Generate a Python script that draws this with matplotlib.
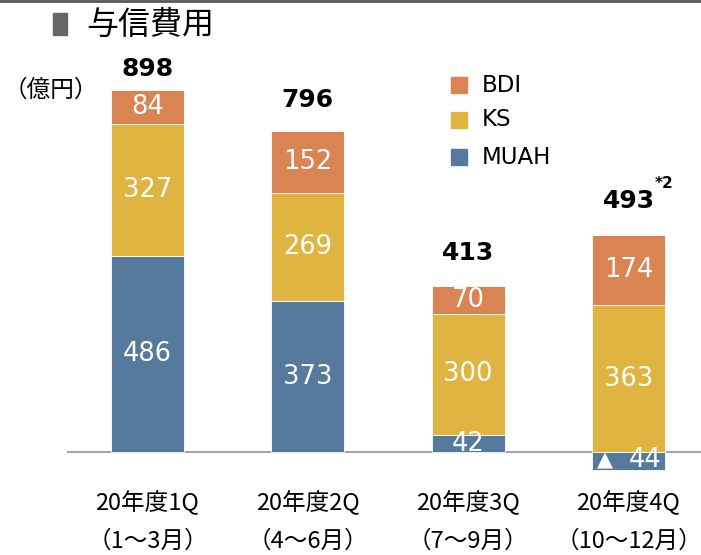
import matplotlib.pyplot as plt
import numpy as np

plt.rcParams['font.family'] = ['Noto Sans CJK JP', 'DejaVu Sans']

# データ（億円）
quarters = ['20年度1Q\n（1～3月）', '20年度2Q\n（4～6月）', '20年度3Q\n（7～9月）', '20年度4Q\n（10～12月）']
muah = [486, 373, 42, -44]
ks = [327, 269, 300, 363]
bdi = [84, 152, 70, 174]
totals = [898, 796, 413, 493]

c_bdi = '#D98452'
c_ks = '#DFB441'
c_muah = '#56799E'

W, H = 701, 555
fig = plt.figure(figsize=(W / 100, H / 100), dpi=100)
ax = fig.add_axes([67 / W, 0, 1 - 67 / W, 1])

x = np.arange(len(quarters))
width = 0.455
muah = np.array(muah)
ks = np.array(ks)
bdi = np.array(bdi)

# 負の値は下向きに積む
ks_bottom = np.where(muah > 0, muah, 0)
bdi_bottom = ks_bottom + ks

r_muah = ax.bar(x, muah, width, color=c_muah, edgecolor='white', linewidth=0.6, zorder=2)
r_ks = ax.bar(x, ks, width, bottom=ks_bottom, color=c_ks, edgecolor='white', linewidth=0.6, zorder=2)
r_bdi = ax.bar(x, bdi, width, bottom=bdi_bottom, color=c_bdi, edgecolor='white', linewidth=0.6, zorder=2)

ax.set_xlim(-0.502, 3.452)
ax.set_ylim(-255, 1119)
ax.axhline(0, color='#A6A6A6', linewidth=1.5, zorder=1)
for s in ax.spines.values():
    s.set_visible(False)
ax.set_yticks([])
ax.set_xticks([])


# ラベル（白文字）
def seg_label(rects, vals):
    for rect, v in zip(rects, vals):
        cx = rect.get_x() + rect.get_width() / 2
        cy = rect.get_y() + rect.get_height() / 2
        if v >= 0:
            ax.text(cx, cy, '{}'.format(v), ha='center', va='center', color='white',
                    fontsize=18.5, family='DejaVu Sans', zorder=3)
        else:
            # マイナスは▲表示
            ax.annotate('▲', xy=(cx, cy), xytext=(-24, 0), textcoords='offset pixels',
                        ha='center', va='center', color='white', fontsize=15,
                        family='DejaVu Sans', zorder=3)
            ax.annotate('{}'.format(-v), xy=(cx, cy), xytext=(17, 1), textcoords='offset pixels',
                        ha='center', va='center', color='white', fontsize=18.5,
                        family='DejaVu Sans', zorder=3)


seg_label(r_muah, muah)
seg_label(r_ks, ks)
seg_label(r_bdi, bdi)

# 合計
tops = bdi_bottom + bdi
pads = [6, 14, 15, 16]
for xi, t, tot, p in zip(x, tops, totals, pads):
    ax.annotate('{}'.format(tot), xy=(xi, t), xytext=(0, p), textcoords='offset points',
                ha='center', va='bottom', fontsize=18, fontweight='bold', family='DejaVu Sans')
ax.annotate('*2', xy=(x[3], tops[3]), xytext=(19, 32), textcoords='offset points',
            ha='left', va='bottom', fontsize=11, fontweight='bold', family='DejaVu Sans')

# カテゴリ
for xi, q in zip(x, quarters):
    line1, line2 = q.split('\n')
    ax.text(xi, (H - 503) / H, line1, transform=ax.get_xaxis_transform(),
            ha='center', va='center', fontsize=17)
    ax.text(xi, (H - 541) / H, line2, transform=ax.get_xaxis_transform(),
            ha='center', va='center', fontsize=17)

# 凡例
leg = [('BDI', c_bdi, 85), ('KS', c_ks, 120), ('MUAH', c_muah, 157)]
for name, col, yp in leg:
    fig.patches.append(plt.Rectangle((451 / W, (H - yp - 8) / H), 16 / W, 16 / H,
                                     color=col, transform=fig.transFigure, figure=fig))
    fig.text(482 / W, (H - yp) / H, name, ha='left', va='center', fontsize=16.5,
             family='DejaVu Sans')

# タイトル等
fig.patches.append(plt.Rectangle((53 / W, (H - 35) / H), 14 / W, 22 / H,
                                 color='#666666', transform=fig.transFigure, figure=fig))
fig.text(86 / W, (H - 25) / H, '与信費用', ha='left', va='center', fontsize=23)
fig.text(4 / W, (H - 90) / H, '（億円）', ha='left', va='center', fontsize=17)
fig.add_artist(plt.Line2D([0, 1], [1 - 1 / H, 1 - 1 / H], color='#555555', linewidth=2,
                          transform=fig.transFigure))

fig.savefig('out.png', dpi=100)
